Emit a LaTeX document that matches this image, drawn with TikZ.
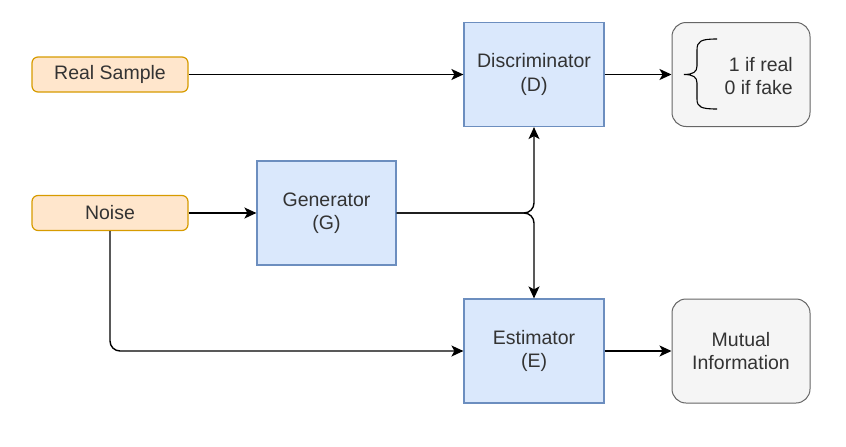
\documentclass[tikz,border=0pt]{standalone}
\usepackage{fontspec}
\setmainfont{Liberation Sans}
\usetikzlibrary{arrows.meta}
\definecolor{ofill}{HTML}{FFE6CC}
\definecolor{odraw}{HTML}{D79B00}
\definecolor{bfill}{HTML}{DAE8FC}
\definecolor{bdraw}{HTML}{6C8EBF}
\definecolor{gfill}{HTML}{F5F5F5}
\definecolor{gdraw}{HTML}{666666}
\definecolor{txt}{HTML}{333333}
\begin{document}
\begin{tikzpicture}[x=1pt,y=-1pt,
  every node/.style={font=\fontsize{19.5}{23.5}\selectfont, text=txt, align=center, inner sep=0pt},
  inbox/.style={draw=odraw, fill=ofill, line width=1.2pt, rounded corners=6pt, minimum width=156pt, minimum height=35pt},
  blockbox/.style={draw=bdraw, fill=bfill, line width=1.2pt, minimum width=140pt, minimum height=104pt},
  outbox/.style={draw=gdraw, fill=gfill, line width=1pt, rounded corners=14pt, minimum width=138pt, minimum height=104pt},
  conn/.style={draw=black, line width=1.4pt, -{Stealth[length=12pt,width=11pt,inset=3pt]}, rounded corners=10pt}]
\useasboundingbox (0,0) rectangle (846,447);
\node[inbox] (RS) at (110,74.5) {Real Sample};
\node[inbox] (N) at (110,213) {Noise};
\node[blockbox, minimum width=139pt] (G) at (326.5,213) {Generator\\(G)};
\node[blockbox] (D) at (534,74.5) {Discriminator\\(D)};
\node[blockbox] (E) at (534,351) {Estimator\\(E)};
\node[outbox] (O) at (741,74.5) {};
\node[anchor=east, align=right] (OT) at (793,76) {1 if real\\0 if fake};
\node[outbox] (MI) at (741,351) {Mutual\\Information};
\draw[line width=1.1pt, draw=black] (717,39) .. controls (701,39) and (697,41) .. (697,50) -- (697,66) .. controls (697,72) and (693,74.5) .. (684,74.5) .. controls (693,74.5) and (697,77) .. (697,83) -- (697,99) .. controls (697,107) and (701,109) .. (717,109);
\draw[conn] (RS) -- (D);
\draw[conn] (D) -- (O);
\draw[conn] (N) -- (G);
\draw[conn] (G.east) -| (D.south);
\draw[conn] (G.east) -| (E.north);
\draw[conn] (N.south) |- (E.west);
\draw[conn] (E) -- (MI);
\end{tikzpicture}
\end{document}
